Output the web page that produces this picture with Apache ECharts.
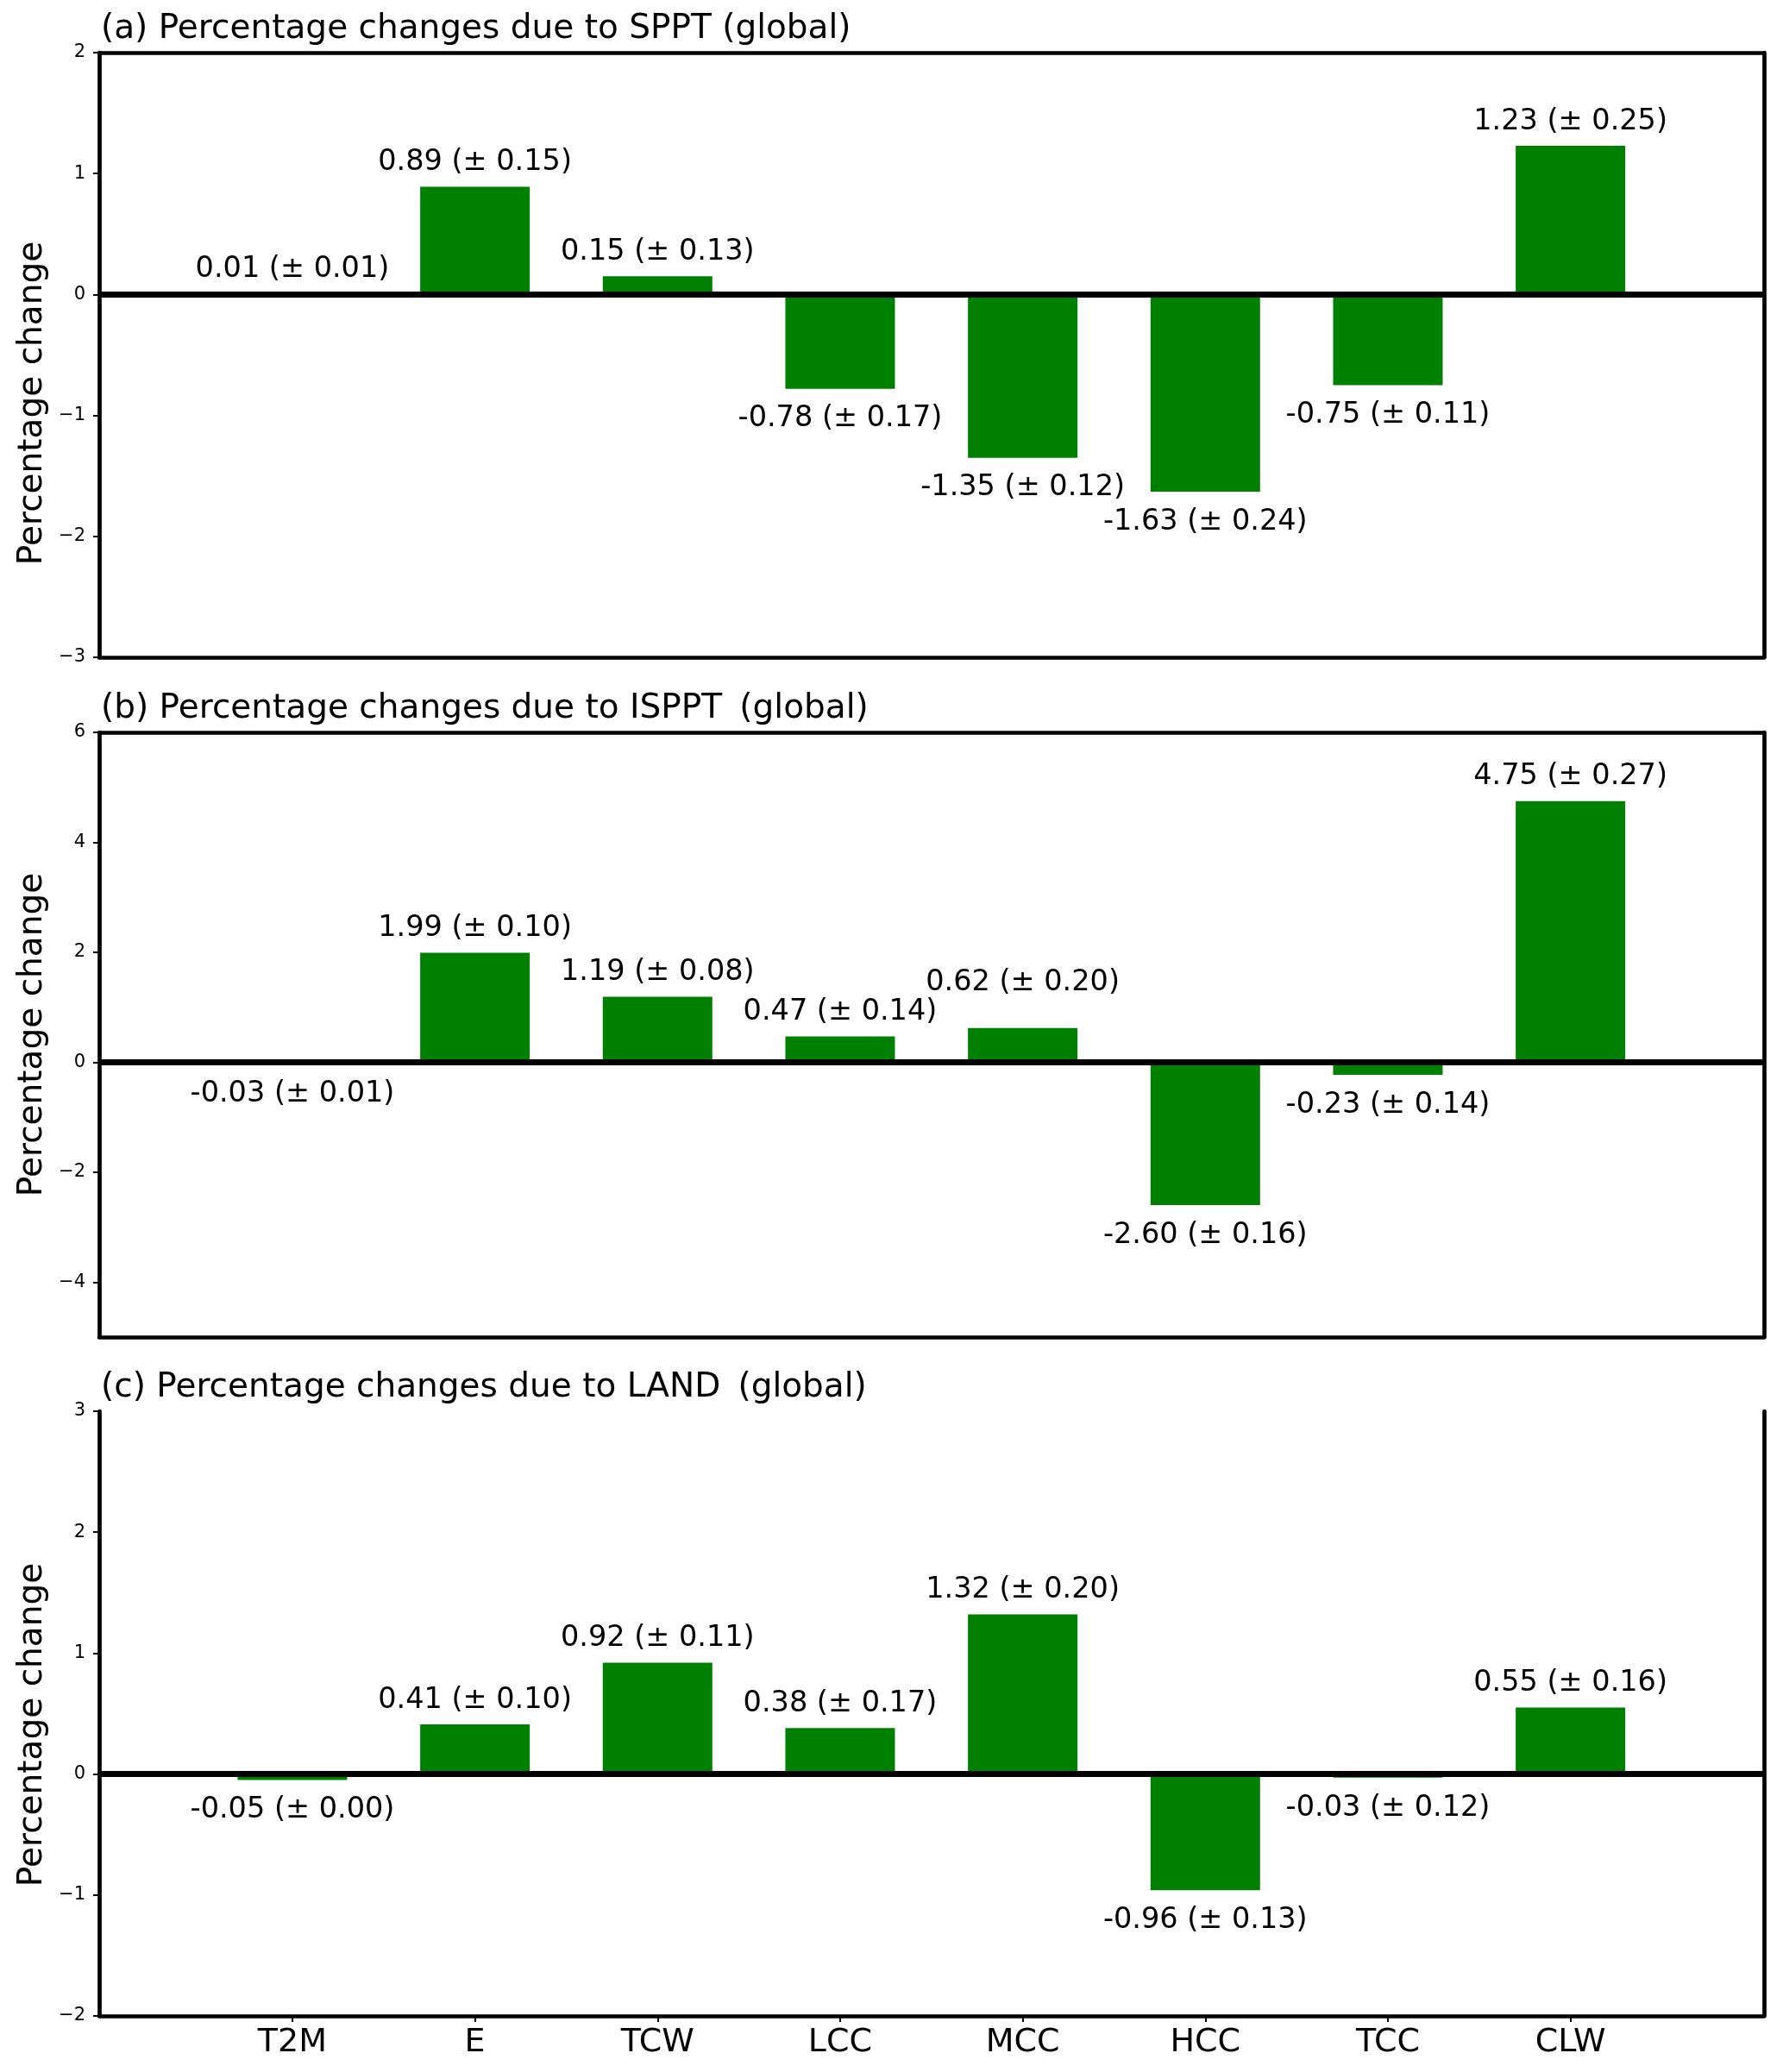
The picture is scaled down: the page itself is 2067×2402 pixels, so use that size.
<!DOCTYPE html>
<html>
<head>
<meta charset="utf-8">
<script src="https://cdn.jsdelivr.net/npm/echarts@6/dist/echarts.min.js"></script>
<style>
html,body{margin:0;padding:0;background:#fff;}
#chart{width:2067px;height:2402px;}
</style>
</head>
<body>
<div id="chart"></div>
<script>
// ---- data ----
const categories = ['T2M', 'E', 'TCW', 'LCC', 'MCC', 'HCC', 'TCC', 'CLW'];
const spptValues  = [0.01, 0.89, 0.15, -0.78, -1.35, -1.63, -0.75, 1.23];
const spptErrors  = [0.01, 0.15, 0.13, 0.17, 0.12, 0.24, 0.11, 0.25];
const isppValues  = [-0.03, 1.99, 1.19, 0.47, 0.62, -2.60, -0.23, 4.75];
const isppErrors  = [0.01, 0.10, 0.08, 0.14, 0.20, 0.16, 0.14, 0.27];
const landValues  = [-0.05, 0.41, 0.92, 0.38, 1.32, -0.96, -0.03, 0.55];
const landErrors  = [0.00, 0.10, 0.11, 0.17, 0.20, 0.13, 0.12, 0.16];
const panelTitles = [
  '(a) Percentage changes due to SPPT (global)',
  '(b) Percentage changes due to ISPPT \u2009(global)',
  '(c) Percentage changes due to LAND \u2009(global)'
];
const yLimits = [[-3, 2], [-5, 6], [-2, 3]];
const yTickValues = [
  [-3, -2, -1, 0, 1, 2],
  [-4, -2, 0, 2, 4, 6],
  [-2, -1, 0, 1, 2, 3]
];
const xLimits = [-1.058, 8.06];
const yAxisTitle = 'Percentage change';

// ---- layout ----
const FONT = 'DejaVu Sans';
const plotLeft = 115, plotRight = 2045;
const panelTops = [61, 849, 1636];
const panelHeight = 701;
const nameShift = [112, 0, 26];   // pushes each y-axis title down a little
const plotW = plotRight - plotLeft;
const barPx = 0.6 * plotW / (xLimits[1] - xLimits[0]);

const panels = [
  {values: spptValues, errors: spptErrors},
  {values: isppValues, errors: isppErrors},
  {values: landValues, errors: landErrors}
];

const minusFmt = v => String(v).replace('-', '\u2212');
const grid = [], xAxis = [], yAxis = [], series = [], title = [];
const SPINE = 4.7;

function overlaps(a, b) {
  return a.x < b.x + b.width && b.x < a.x + a.width && a.y < b.y + b.height && b.y < a.y + a.height;
}

panels.forEach((p, k) => {
  const last = k === panels.length - 1;
  const placed = [];
  grid.push({left: plotLeft, width: plotW, top: panelTops[k], height: panelHeight, containLabel: false});
  title.push({
    text: panelTitles[k], left: 117, top: panelTops[k] - 47, padding: 0,
    textStyle: {fontFamily: FONT, fontSize: 39, fontWeight: 'normal', color: '#000'}
  });
  xAxis.push({
    type: 'value', gridIndex: k, min: xLimits[0], max: xLimits[1], position: 'bottom',
    axisLine: {show: true, onZero: false, lineStyle: {color: '#000', width: SPINE}},
    axisTick: {show: last, length: 7, lineStyle: {color: '#000', width: 2}, customValues: categories.map((c, i) => i)},
    axisLabel: {show: last, margin: 12, fontFamily: FONT, fontSize: 38, color: '#000',
      customValues: categories.map((c, i) => i), formatter: v => categories[Math.round(v)]},
    splitLine: {show: false}
  });
  xAxis.push({
    type: 'value', gridIndex: k, min: xLimits[0], max: xLimits[1], position: 'top',
    axisLine: {show: !last, onZero: false, lineStyle: {color: '#000', width: SPINE}},
    axisTick: {show: false}, axisLabel: {show: false}, splitLine: {show: false}
  });
  yAxis.push({
    type: 'value', gridIndex: k, min: yLimits[k][0], max: yLimits[k][1], position: 'left',
    name: yAxisTitle, nameLocation: 'middle', nameGap: 58,
    nameTextStyle: {fontFamily: FONT, fontSize: 39, color: '#000', padding: [0, nameShift[k], 0, 0]},
    axisLine: {show: true, onZero: false, lineStyle: {color: '#000', width: SPINE}},
    axisTick: {show: true, length: 7, lineStyle: {color: '#000', width: 2}, customValues: yTickValues[k]},
    axisLabel: {show: true, margin: 16, fontFamily: FONT, fontSize: 21, color: '#000',
      customValues: yTickValues[k], formatter: minusFmt},
    splitLine: {show: false}
  });
  yAxis.push({
    type: 'value', gridIndex: k, min: yLimits[k][0], max: yLimits[k][1], position: 'right',
    axisLine: {show: true, onZero: false, lineStyle: {color: '#000', width: SPINE}},
    axisTick: {show: false}, axisLabel: {show: false}, splitLine: {show: false}
  });
  series.push({
    type: 'bar', xAxisIndex: 2 * k, yAxisIndex: 2 * k, barWidth: barPx,
    itemStyle: {color: '#008000'},
    data: p.values.map((v, i) => ({
      value: [i, v],
      label: v >= 0 ? {position: 'top', distance: 11} : {position: 'bottom', distance: 18}
    })),
    label: {
      show: true, fontFamily: FONT, fontSize: 33.5, color: '#000',
      formatter: prm => {
        const i = prm.dataIndex;
        return p.values[i].toFixed(2) + ' (\u00b1 ' + p.errors[i].toFixed(2) + ')';
      }
    },
    // if a label collides with its left neighbour's label, lift it clear of it
    labelLayout: prm => {
      const i = prm.dataIndex;
      if (i === 0) placed.length = 0;
      const r = {x: prm.labelRect.x, y: prm.labelRect.y, width: prm.labelRect.width, height: prm.labelRect.height};
      const prev = placed[i - 1];
      let dy = 0;
      if (prev && overlaps(r, prev)) {
        dy = p.values[i] >= 0 ? (prev.y - (r.y + r.height)) : (prev.y + prev.height - r.y);
      }
      r.y += dy;
      placed[i] = r;
      return {dy: dy};
    },
    markLine: {
      silent: true, symbol: ['none', 'none'], label: {show: false},
      lineStyle: {color: '#000', width: 7, type: 'solid'},
      data: [{yAxis: 0}]
    },
    z: 2
  });
});

const chart = echarts.init(document.getElementById('chart'), null, {renderer: 'canvas'});
chart.setOption({animation: false, backgroundColor: '#fff', title, grid, xAxis, yAxis, series});
</script>
</body>
</html>
